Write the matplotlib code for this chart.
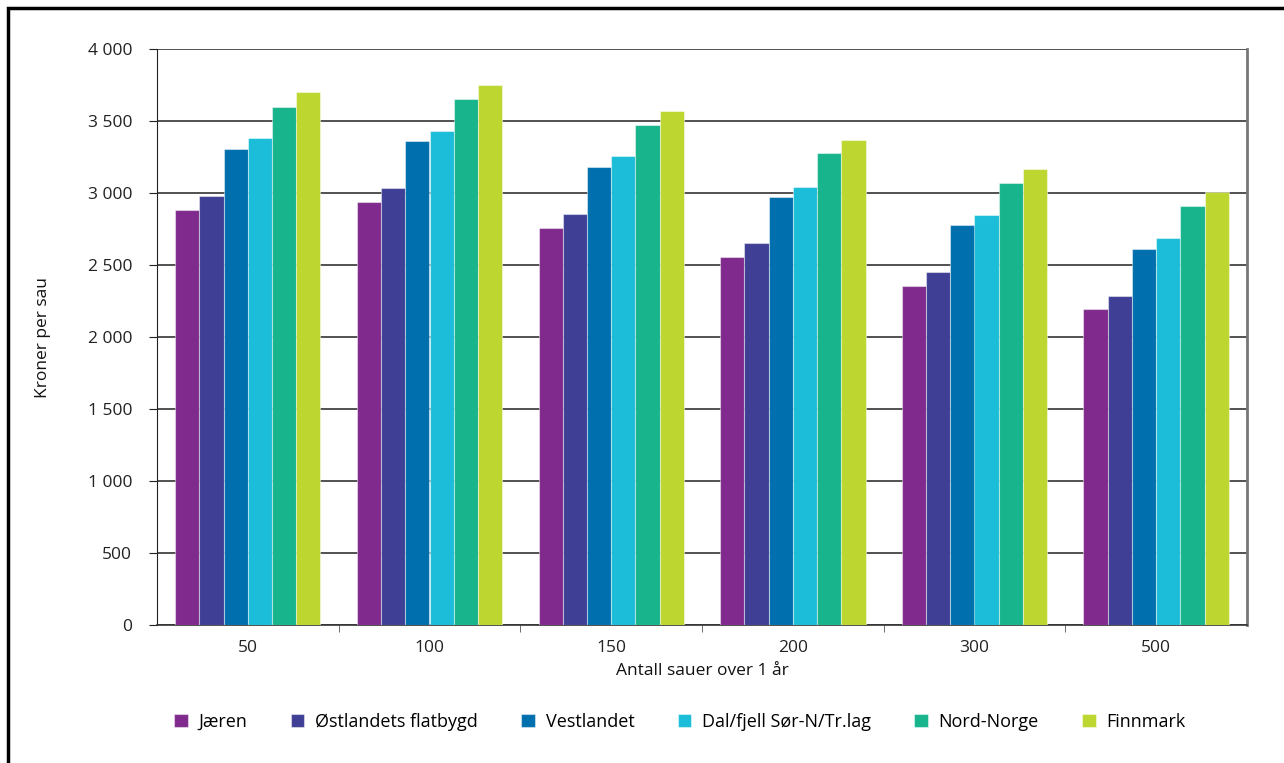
import matplotlib
matplotlib.use("Agg")
import matplotlib.pyplot as plt
import numpy as np
from matplotlib.ticker import FuncFormatter, MultipleLocator
from matplotlib.patches import Rectangle

plt.rcParams['font.family'] = ['Open Sans', 'DejaVu Sans']

groups = ['50', '100', '150', '200', '300', '500']
series = ['Jæren', 'Østlandets flatbygd', 'Vestlandet', 'Dal/fjell Sør-N/Tr.lag',
          'Nord-Norge', 'Finnmark']
colors = ['#7f2a8c', '#3f3f96', '#006fad', '#1cbdd8', '#18b48c', '#bed730']

jaeren = [2885, 2940, 2760, 2555, 2355, 2195]
ostland = [2980, 3035, 2855, 2650, 2450, 2285]
vestland = [3305, 3360, 3180, 2975, 2775, 2610]
dalfjell = [3380, 3430, 3255, 3045, 2845, 2685]
nordnorge = [3600, 3655, 3475, 3275, 3070, 2910]
finnmark = [3700, 3750, 3570, 3370, 3165, 3005]
values = [jaeren, ostland, vestland, dalfjell, nordnorge, finnmark]

fig = plt.figure(figsize=(12.84, 7.63), dpi=100)
ax = fig.add_axes([157/1284, 1 - 625/763, 1090/1284, 576/763])

x = np.arange(len(groups))
bw = 0.8 / len(series)
for i, (name, vals) in enumerate(zip(series, values)):
    ax.bar(x - 0.4 + bw*(i + 0.5), vals, bw, color=colors[i], label=name,
           edgecolor=(1, 1, 1, 0.45), linewidth=0.8, zorder=3)

ax.set_xlim(-0.5, len(groups) - 0.5)
ax.set_ylim(0, 4000)
ax.yaxis.set_major_locator(MultipleLocator(500))
ax.yaxis.set_major_formatter(FuncFormatter(lambda v, p: f"{int(v):,}".replace(",", " ")))
ax.grid(axis='y', color='#222222', linewidth=1.1, zorder=0)

ax.set_xticks(x)
ax.set_xticklabels(groups)
ax.set_xticks(np.arange(0.5, len(groups) - 1), minor=True)
ax.tick_params(axis='x', which='major', length=0, pad=11, labelsize=12.5, colors='#222222')
ax.tick_params(axis='x', which='minor', length=5, direction='out', color='#555555')
ax.tick_params(axis='y', length=6, direction='out', labelsize=12.5, pad=12, colors='#222222')

ax.spines['top'].set_visible(False)
ax.spines['right'].set_color('#777777')
ax.spines['right'].set_linewidth(2)
ax.spines['left'].set_color('#222222')
ax.spines['bottom'].set_color('#333333')
ax.spines['bottom'].set_linewidth(1.2)

ax.set_ylabel('Kroner per sau', fontsize=12.5, labelpad=26, color='#111111')
ax.set_xlabel('Antall sauer over 1 år', fontsize=12.5, labelpad=5, color='#111111')

fig.legend(loc='center', bbox_to_anchor=(680/1284, 1 - 722/763), ncol=6, frameon=False,
           fontsize=13, handlelength=0.75, handleheight=0.75, handletextpad=0.6,
           columnspacing=2.4)

fig.patches.append(Rectangle((8/1284, -0.1), 1.2, 1 - 8/763 + 0.1, transform=fig.transFigure,
                             fill=False, edgecolor='black', linewidth=2.5))

fig.savefig('out.png', dpi=100)
